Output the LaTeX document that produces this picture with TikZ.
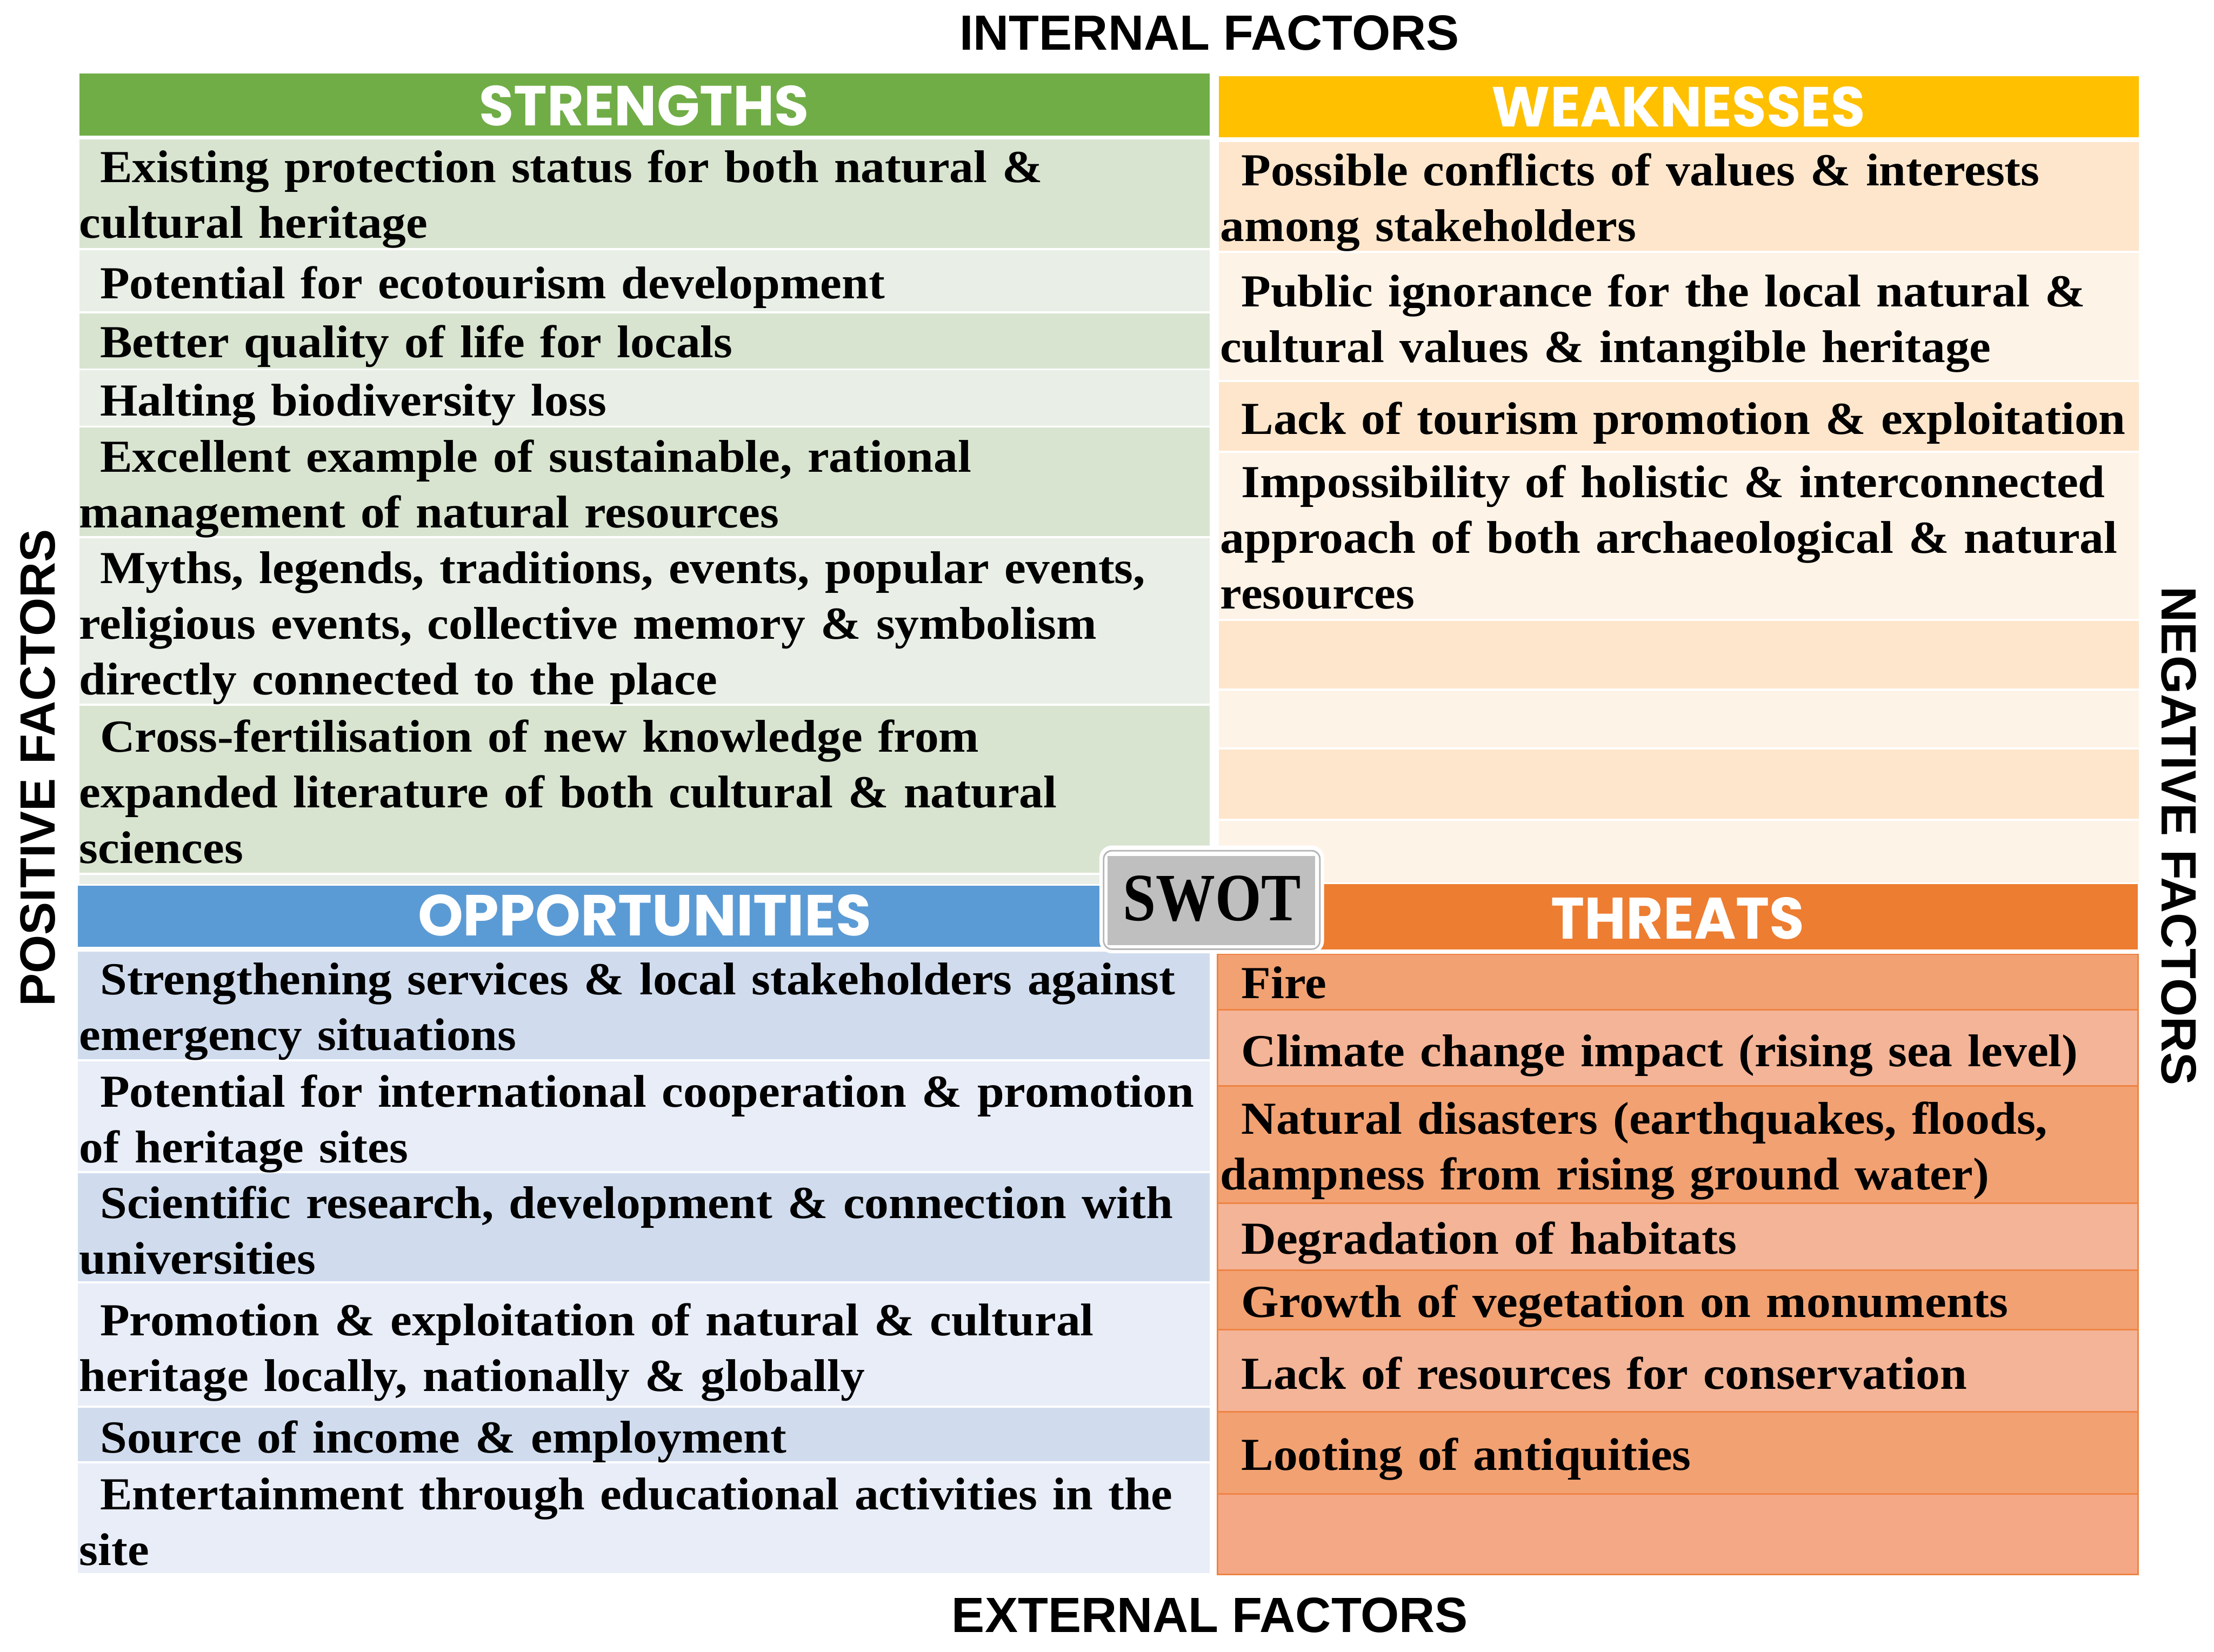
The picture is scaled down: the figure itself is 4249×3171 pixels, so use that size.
\documentclass[tikz,border=0pt]{standalone}
\usepackage{fontspec}
\usepackage{graphicx}
\setmainfont{Liberation Serif}
\newfontfamily\cellfont{Liberation Serif}[FakeStretch=1.055]
\newfontfamily\headfont{Poppins}
\newfontfamily\sidefont{Liberation Sans}
\definecolor{sgreen}{HTML}{70AD47}
\definecolor{sdark}{HTML}{D8E4D0}
\definecolor{slight}{HTML}{E9EFE7}
\definecolor{oblue}{HTML}{5B9BD5}
\definecolor{odark}{HTML}{D0DCEE}
\definecolor{olight}{HTML}{E8EDF7}
\definecolor{wyellow}{HTML}{FFC000}
\definecolor{wdark}{HTML}{FEE6CC}
\definecolor{wlight}{HTML}{FEF3E7}
\definecolor{tor}{HTML}{ED7D31}
\definecolor{tdark}{HTML}{F2A172}
\definecolor{tlight}{HTML}{F4B497}
\definecolor{tlast}{HTML}{F5A886}
\definecolor{tline}{HTML}{EE8444}
\definecolor{swotgray}{HTML}{BFBFBF}
\definecolor{swotline}{HTML}{B5B5B5}
\begin{document}
\begin{tikzpicture}[x=1pt,y=-1pt,
  txt/.style={anchor=base west, inner sep=0pt, text width=2300pt, align=left,
    font=\cellfont\bfseries\fontsize{88}{107}\selectfont},
  hdr/.style={text=white, inner sep=0pt, font=\headfont\bfseries},
  side/.style={inner sep=0pt, font=\sidefont\bfseries\fontsize{95}{110}\selectfont},
  sepline/.style={draw=tline, line width=3pt}]
\useasboundingbox (0,0) rectangle (4249,3171);
\fill[white] (0,0) rectangle (4249,3171);

% ---------- STRENGTHS ----------
\fill[sgreen] (152,141) rectangle (2322,260);
\fill[sdark]  (152,268) rectangle (2322,476);
\fill[slight] (152,480) rectangle (2322,598);
\fill[sdark]  (152,602) rectangle (2322,707);
\fill[slight] (152,711) rectangle (2322,817);
\fill[sdark]  (152,821) rectangle (2322,1029);
\fill[slight] (152,1033) rectangle (2322,1351);
\fill[sdark]  (152,1355) rectangle (2322,1675);
\fill[slight] (152,1679) rectangle (2322,1697);

% ---------- OPPORTUNITIES ----------
\fill[oblue]  (149,1700) rectangle (2322,1817);
\fill[odark]  (149,1827) rectangle (2322,2033);
\fill[olight] (149,2037) rectangle (2322,2248);
\fill[odark]  (149,2252) rectangle (2322,2460);
\fill[olight] (149,2464) rectangle (2322,2698);
\fill[odark]  (149,2702) rectangle (2322,2805);
\fill[olight] (149,2809) rectangle (2322,3020);

% ---------- WEAKNESSES ----------
\fill[wyellow] (2339,146) rectangle (4105,263);
\fill[wdark]  (2339,273) rectangle (4105,481);
\fill[wlight] (2339,485) rectangle (4105,729);
\fill[wdark]  (2339,733) rectangle (4105,865);
\fill[wlight] (2339,869) rectangle (4105,1188);
\fill[wdark]  (2339,1192) rectangle (4105,1322);
\fill[wlight] (2339,1326) rectangle (4105,1435);
\fill[wdark]  (2339,1439) rectangle (4105,1572);
\fill[wlight] (2339,1576) rectangle (4105,1694);

% ---------- THREATS ----------
\fill[tor]    (2337,1697) rectangle (4103,1823);
\fill[tdark]  (2337,1832) rectangle (4103,1938);
\fill[tlight] (2337,1938) rectangle (4103,2085);
\fill[tdark]  (2337,2085) rectangle (4103,2310);
\fill[tlight] (2337,2310) rectangle (4103,2438);
\fill[tdark]  (2337,2438) rectangle (4103,2552);
\fill[tlight] (2337,2552) rectangle (4103,2710);
\fill[tdark]  (2337,2710) rectangle (4103,2868);
\fill[tlast]  (2337,2868) rectangle (4103,3022);
\foreach \yy in {1938,2085,2310,2438,2552,2710,2868}
  \draw[sepline] (2337,\yy) -- (4103,\yy);
\draw[sepline] (2337,1832) rectangle (4103,3022);

% ---------- headers ----------
\node[hdr] (hS) at (1236,203) {\resizebox{633pt}{77pt}{STRENGTHS}};
\node[hdr] (hW) at (3221,205) {\resizebox{716pt}{77pt}{WEAKNESSES}};
\node[hdr] (hO) at (1237,1757) {\resizebox{870pt}{79pt}{OPPORTUNITIES}};
\node[hdr] (hT) at (3220,1763) {\resizebox{486pt}{80pt}{THREATS}};

% ---------- strengths text ----------
\node[txt] (s1) at (152,350) {\hspace*{40pt}Existing protection status for both natural \&\\cultural heritage};
\node[txt] (s2) at (152,573) {\hspace*{40pt}Potential for ecotourism development};
\node[txt] (s3) at (152,686) {\hspace*{40pt}Better quality of life for locals};
\node[txt] (s4) at (152,798) {\hspace*{40pt}Halting biodiversity loss};
\node[txt] (s5) at (152,906) {\hspace*{40pt}Excellent example of sustainable, rational\\management of natural resources};
\node[txt] (s6) at (152,1120) {\hspace*{40pt}Myths, legends, traditions, events, popular events,\\religious events, collective memory \& symbolism\\directly connected to the place};
\node[txt] (s7) at (152,1443) {\hspace*{40pt}Cross-fertilisation of new knowledge from\\expanded literature of both cultural \& natural\\sciences};

% ---------- opportunities text ----------
\node[txt] (o1) at (152,1909) {\hspace*{40pt}Strengthening services \& local stakeholders against\\emergency situations};
\node[txt] (o2) at (152,2125) {\hspace*{40pt}Potential for international cooperation \& promotion\\of heritage sites};
\node[txt] (o3) at (152,2339) {\hspace*{40pt}Scientific research, development \& connection with\\universities};
\node[txt] (o4) at (152,2564) {\hspace*{40pt}Promotion \& exploitation of natural \& cultural\\heritage locally, nationally \& globally};
\node[txt] (o5) at (152,2789) {\hspace*{40pt}Source of income \& employment};
\node[txt] (o6) at (152,2898) {\hspace*{40pt}Entertainment through educational activities in the\\site};

% ---------- weaknesses text ----------
\node[txt] (w1) at (2342,356) {\hspace*{40pt}Possible conflicts of values \& interests\\among stakeholders};
\node[txt] (w2) at (2342,589) {\hspace*{40pt}Public ignorance for the local natural \&\\cultural values \& intangible heritage};
\node[txt] (w3) at (2342,833) {\hspace*{40pt}Lack of tourism promotion \& exploitation};
\node[txt] (w4) at (2342,955) {\hspace*{40pt}Impossibility of holistic \& interconnected\\approach of both archaeological \& natural\\resources};

% ---------- threats text ----------
\node[txt] (t1) at (2342,1916) {\hspace*{40pt}Fire};
\node[txt] (t2) at (2342,2047) {\hspace*{40pt}Climate change impact (rising sea level)};
\node[txt] (t3) at (2342,2177) {\hspace*{40pt}Natural disasters (earthquakes, floods,\\dampness from rising ground water)};
\node[txt] (t4) at (2342,2407) {\hspace*{40pt}Degradation of habitats};
\node[txt] (t5) at (2342,2529) {\hspace*{40pt}Growth of vegetation on monuments};
\node[txt] (t6) at (2342,2667) {\hspace*{40pt}Lack of resources for conservation};
\node[txt] (t7) at (2342,2822) {\hspace*{40pt}Looting of antiquities};

% ---------- SWOT box ----------
\fill[white, rounded corners=24pt] (2110,1623) rectangle (2541,1830);
\draw[swotline, line width=3pt, rounded corners=16pt] (2118,1633) rectangle (2533,1822);
\fill[swotgray] (2126,1643) rectangle (2524,1814);
\node[inner sep=0pt] (swot) at (2326,1725) {\resizebox{342pt}{86pt}{\bfseries SWOT}};

% ---------- side labels ----------
\node[side] (int) at (2321,63) {INTERNAL FACTORS};
\node[side] (ext) at (2322,3101) {EXTERNAL FACTORS};
\node[side, rotate=90] (pos) at (73,1474) {POSITIVE FACTORS};
\node[side, rotate=-90] (neg) at (4182,1605) {NEGATIVE FACTORS};
\end{tikzpicture}
\end{document}
